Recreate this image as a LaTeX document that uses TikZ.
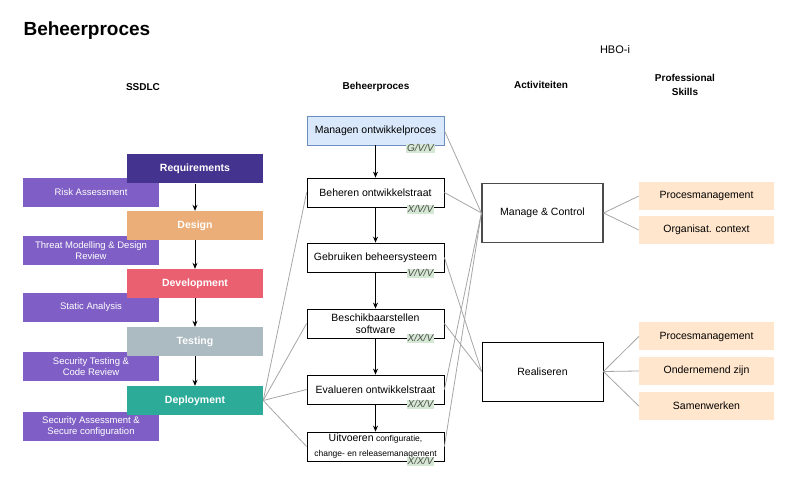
\documentclass[tikz,border=0pt]{standalone}
\usepackage{fontspec}
\setmainfont{Liberation Sans}
\usetikzlibrary{arrows.meta,positioning}
\definecolor{creq}{HTML}{45348F}
\definecolor{cdes}{HTML}{EBAE78}
\definecolor{cdev}{HTML}{EB6070}
\definecolor{ctest}{HTML}{ACBAC2}
\definecolor{cdep}{HTML}{2DAB99}
\definecolor{cpurp}{HTML}{7F5FC5}
\definecolor{cblue}{HTML}{DAE8FC}
\definecolor{cblueb}{HTML}{6C8EBF}
\definecolor{cgreen}{HTML}{D5E8D4}
\definecolor{cskill}{HTML}{FFE6CC}
\definecolor{cline}{HTML}{A6A6A6}
\begin{document}
\begin{tikzpicture}[x=1pt,y=-1pt,
  ssdlc/.style={rectangle,minimum width=136pt,minimum height=29pt,inner sep=0pt,text=white,font=\fontsize{10.5}{12}\selectfont\bfseries},
  sub/.style={rectangle,fill=cpurp,minimum width=136pt,minimum height=29pt,inner sep=0pt,text=white,align=center,font=\fontsize{9.5}{11.5}\selectfont},
  proc/.style={rectangle,draw=black,line width=0.8pt,fill=white,minimum width=137pt,minimum height=29pt,inner sep=0pt,align=center,font=\fontsize{10.5}{12.5}\selectfont},
  tag/.style={fill=cgreen,text=black!70,inner sep=1pt,font=\fontsize{10}{11}\selectfont\itshape},
  act/.style={rectangle,draw=black,line width=0.8pt,minimum width=121pt,minimum height=59pt,inner sep=0pt,font=\fontsize{10.5}{12}\selectfont},
  skill/.style={rectangle,fill=cskill,minimum width=135pt,minimum height=28pt,inner sep=0pt,font=\fontsize{10.5}{12}\selectfont},
  hdr/.style={font=\fontsize{10}{12}\selectfont\bfseries,align=center},
  arr/.style={-{Stealth[length=6pt,width=5pt]},line width=0.9pt,black},
  conn/.style={cline,line width=0.8pt}
]
\useasboundingbox (0,0) rectangle (798,502);
% titles
\node[anchor=west,font=\fontsize{19}{22}\selectfont\bfseries] (title) at (20,31) {Beheerproces};
\node[font=\fontsize{11}{13}\selectfont] (hbo) at (615,50) {HBO-i};
\node[hdr] (hssdlc) at (143,87) {SSDLC};
\node[hdr] (hbeh) at (376,87) {Beheerproces};
\node[hdr] (hact) at (541,85) {Activiteiten};
\node[hdr,font=\fontsize{10}{14}\selectfont\bfseries] (hps) at (685,85) {Professional\\Skills};
% SSDLC
\node[sub] (risk) at (91,192.5) {Risk Assessment};
\node[sub] (threat) at (91,250.5) {Threat Modelling \& Design\\Review};
\node[sub] (static) at (91,307.5) {Static Analysis};
\node[sub] (sectest) at (91,366.5) {Security Testing \&\\Code Review};
\node[sub] (secass) at (91,426.5) {Security Assessment \&\\Secure configuration};
\node[ssdlc,fill=creq] (req) at (195,169) {Requirements};
\node[ssdlc,fill=cdes] (des) at (195,225.5) {Design};
\node[ssdlc,fill=cdev] (dev) at (195,283.5) {Development};
\node[ssdlc,fill=ctest] (test) at (195,341.5) {Testing};
\node[ssdlc,fill=cdep] (dep) at (195,400.5) {Deployment};
\draw[arr] (req) -- (des);
\draw[arr] (des) -- (dev);
\draw[arr] (dev) -- (test);
\draw[arr] (test) -- (dep);
% middle column
\node[proc,fill=cblue,draw=cblueb] (p1) at (375.5,130.5) {Managen ontwikkelproces};
\node[proc] (p2) at (375.5,192.5) {Beheren ontwikkelstraat};
\node[proc] (p3) at (375.5,257.5) {Gebruiken beheersysteem};
\node[proc] (p4) at (375.5,323.5) {Beschikbaarstellen\\software};
\node[proc] (p5) at (375.5,389.5) {Evalueren ontwikkelstraat};
\node[proc,font=\fontsize{8.5}{15}\selectfont] (p6) at (375.5,446.5) {{\fontsize{10.5}{12}\selectfont Uitvoeren} configuratie,\\change- en releasemanagement};
\draw[arr] (p1) -- (p2);
\draw[arr] (p2) -- (p3);
\draw[arr] (p3) -- (p4);
\draw[arr] (p4) -- (p5);
\draw[arr] (p5) -- (p6);
\node[tag,anchor=center] (t1) at ([xshift=-24pt,yshift=-3pt]p1.south east) {G/V/V};
\node[tag,anchor=center] (t2) at ([xshift=-24pt,yshift=-2pt]p2.south east) {X/V/V};
\node[tag,anchor=center] (t3) at ([xshift=-24pt,yshift=-1pt]p3.south east) {V/V/V};
\node[tag,anchor=center] (t4) at ([xshift=-24pt,yshift=0pt]p4.south east) {X/X/V};
\node[tag,anchor=center] (t5) at ([xshift=-24pt,yshift=0pt]p5.south east) {X/X/V};
\node[tag,anchor=center] (t6) at ([xshift=-24pt,yshift=0pt]p6.south east) {X/X/V};
% activities
\node[act,draw=black!70,line width=1.2pt] (mc) at (542.5,213) {Manage \& Control};
\node[act] (real) at (542.5,371.5) {Realiseren};
% skills
\node[skill] (s1) at (706.5,196) {Procesmanagement};
\node[skill] (s2) at (706.5,230) {Organisat. context};
\node[skill] (s3) at (706.5,336.5) {Procesmanagement};
\node[skill] (s4) at (706.5,371) {Ondernemend zijn};
\node[skill] (s5) at (706.5,406) {Samenwerken};
% connectors
\draw[conn] (dep.east) -- (p2.west);
\draw[conn] (dep.east) -- (p4.west);
\draw[conn] (dep.east) -- (p5.west);
\draw[conn] (dep.east) -- (p6.west);
\draw[conn] (p1.east) -- (mc.west);
\draw[conn] (p2.east) -- (mc.west);
\draw[conn] (p5.east) -- (mc.west);
\draw[conn] (p6.east) -- (mc.west);
\draw[conn] (p3.east) -- (real.west);
\draw[conn] (p4.east) -- (real.west);
\draw[conn] (mc.east) -- (s1.west);
\draw[conn] (mc.east) -- (s2.west);
\draw[conn] (real.east) -- (s3.west);
\draw[conn] (real.east) -- (s4.west);
\draw[conn] (real.east) -- (s5.west);
\end{tikzpicture}
\end{document}
